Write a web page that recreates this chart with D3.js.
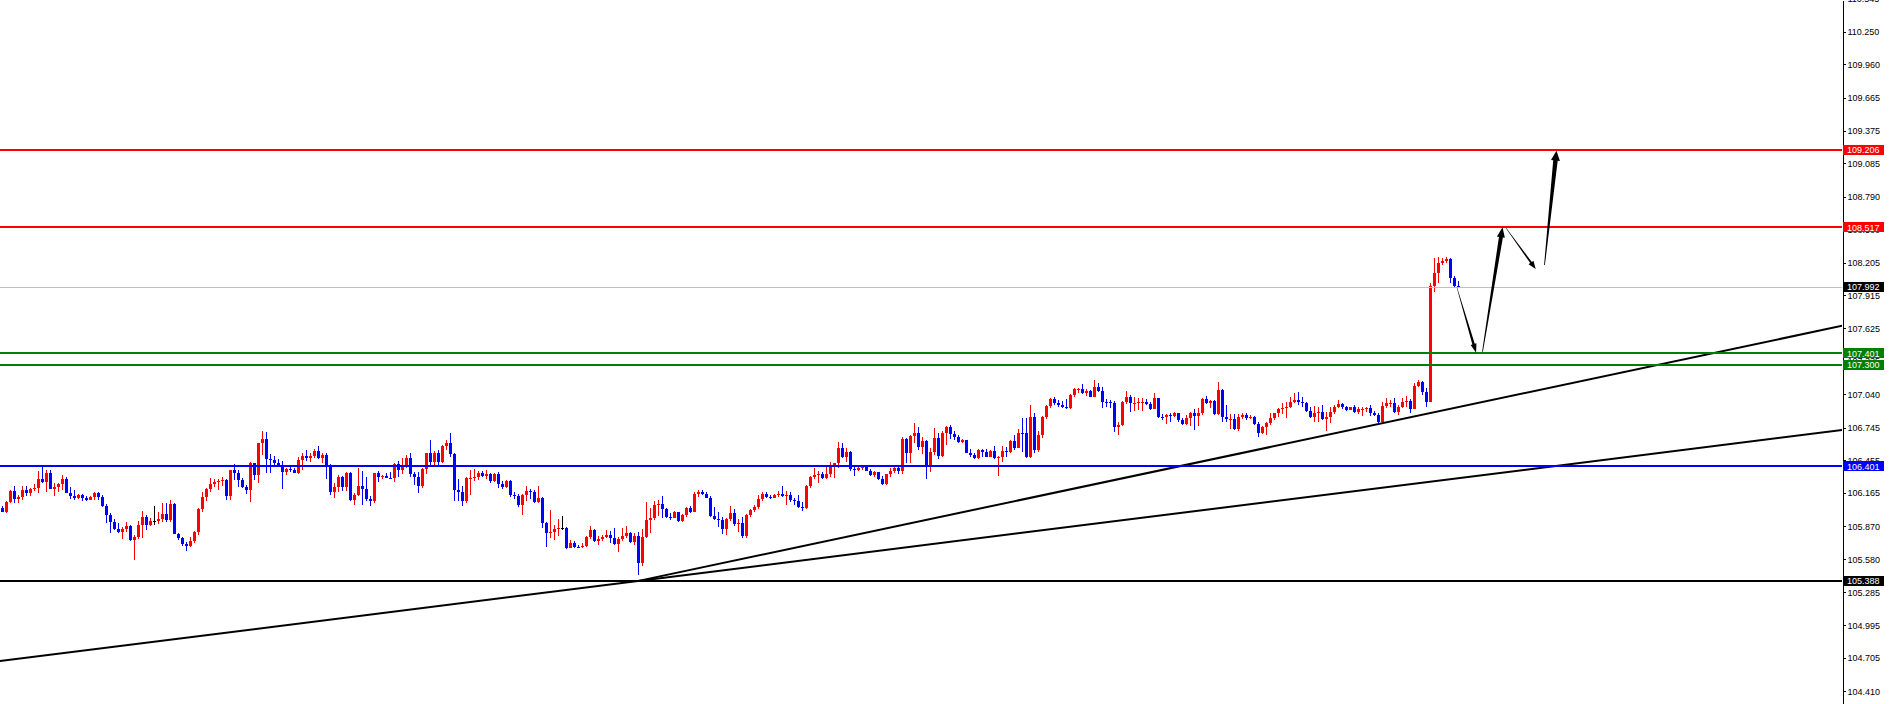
<!DOCTYPE html>
<html>
<head>
<meta charset="utf-8">
<script src="https://cdn.jsdelivr.net/npm/d3@7"></script>
<style>
html,body{margin:0;padding:0;background:#fff;}
svg{display:block;}
</style>
</head>
<body>
<svg id="chart" width="1889" height="704"></svg>
<script>
// ---------------- DATA ----------------
const firstOpen = 106.033;
const closes = [
106.001,106.089,106.186,106.116,106.133,106.195,106.169,106.201,106.213,106.290,
106.266,106.346,106.204,106.219,106.245,106.290,106.169,106.139,106.119,106.148,
106.119,106.104,106.133,106.169,106.133,106.054,105.968,105.912,105.850,105.823,
105.850,105.874,105.747,105.779,105.880,105.953,105.882,105.918,105.918,105.933,
105.977,105.927,106.068,105.803,105.764,105.714,105.697,105.744,105.823,106.021,
106.127,106.201,106.245,106.266,106.272,106.281,106.139,106.369,106.346,106.281,
106.222,106.192,106.428,106.325,106.605,106.644,106.467,106.458,106.428,106.405,
106.355,106.378,106.369,106.346,106.458,
106.493,106.479,106.493,106.538,106.473,106.502,106.414,106.178,106.222,106.310,
106.222,106.346,106.104,106.148,106.228,106.201,106.113,106.098,106.340,106.304,
106.316,106.301,106.298,106.420,106.369,106.414,106.479,106.331,106.304,106.231,
106.378,106.523,106.443,106.517,106.437,106.582,106.611,106.511,106.192,106.178,
106.098,106.296,106.301,106.310,106.346,106.319,106.334,106.272,106.331,106.242,
106.216,106.275,106.148,106.140,106.060,106.148,106.186,106.172,106.089,106.124,
105.903,105.815,105.823,105.844,105.859,105.859,105.682,105.720,105.691,105.685,
105.700,105.779,105.838,105.744,105.759,
105.776,105.794,105.765,105.712,105.759,105.785,105.812,105.729,105.785,105.549,
105.779,105.927,105.948,106.060,106.066,106.021,105.957,105.942,105.995,105.918,
105.971,106.030,106.001,106.157,106.178,106.160,106.125,105.962,105.936,105.930,
105.847,105.936,105.986,105.889,105.898,105.788,105.971,106.016,106.039,106.113,
106.157,106.134,106.125,106.148,106.157,106.142,106.148,106.104,106.095,106.045,
106.030,106.228,106.311,106.325,106.337,106.296,106.334,106.399,106.429,106.567,
106.488,106.532,106.376,106.367,106.390,106.393,106.364,106.325,106.349,106.290,
106.246,106.331,106.361,106.384,106.364,
106.644,106.517,106.671,106.700,106.576,106.629,106.405,106.532,106.650,106.494,
106.700,106.747,106.688,106.665,106.620,106.635,106.523,106.502,106.473,106.547,
106.532,106.488,106.538,106.473,106.488,106.538,106.532,106.626,106.567,106.700,
106.694,106.482,106.842,106.547,106.680,106.842,106.936,106.998,106.960,106.945,
106.930,106.916,107.034,107.084,107.087,107.054,107.072,107.019,107.107,107.072,
106.975,106.969,106.966,106.753,106.768,106.975,107.019,106.960,106.966,106.969,
106.975,106.951,106.910,107.004,106.842,106.836,106.857,106.851,106.871,106.812,
106.777,106.827,106.871,106.851,106.871,
106.998,106.966,106.983,106.865,107.078,106.842,106.818,106.822,106.733,106.842,
106.857,106.827,106.842,106.777,106.700,106.747,106.783,106.827,106.871,106.907,
106.921,106.930,106.975,106.989,106.975,106.960,106.892,106.842,106.871,106.886,
106.821,106.842,106.886,106.930,106.954,106.924,106.901,106.924,106.880,106.907,
106.912,106.916,106.877,106.857,106.798,106.936,106.960,106.966,106.886,106.930,
106.975,106.983,106.907,107.113,107.152,107.063,106.975,107.999,108.117,108.199,
108.220,108.238,108.067,107.996,107.992
];
const highs = [
106.051,106.098,106.192,106.228,106.148,106.228,106.228,106.213,106.245,106.361,
106.408,106.369,106.369,106.251,106.251,106.325,106.304,106.222,106.192,106.157,
106.157,106.139,106.139,106.178,106.178,106.148,106.068,105.986,105.936,105.897,
105.862,105.906,105.882,105.794,105.921,106.009,105.971,105.947,106.051,106.001,
106.074,106.074,106.104,106.074,105.815,105.779,105.732,105.779,105.832,106.030,
106.178,106.213,106.296,106.287,106.290,106.304,106.287,106.369,106.422,106.369,
106.301,106.237,106.443,106.428,106.611,106.715,106.706,106.511,106.493,106.467,
106.449,106.390,106.399,106.390,106.482,
106.523,106.546,106.517,106.552,106.582,106.523,106.523,106.422,106.257,106.325,
106.319,106.355,106.355,106.163,106.384,106.361,106.304,106.139,106.346,106.361,
106.325,106.346,106.355,106.434,106.452,106.473,106.502,106.517,106.355,106.349,
106.390,106.523,106.635,106.541,106.546,106.591,106.635,106.694,106.523,106.287,
106.228,106.304,106.369,106.375,106.363,106.361,106.369,106.346,106.346,106.349,
106.275,106.281,106.281,106.172,106.157,106.154,106.228,106.201,106.192,106.228,
106.133,105.912,106.015,105.882,105.936,105.962,105.868,105.750,105.741,105.705,
105.720,105.785,105.874,105.844,105.785,
105.794,105.838,105.830,105.853,105.779,105.859,105.874,105.824,105.809,105.824,
105.847,106.089,106.030,106.095,106.104,106.142,106.036,105.986,106.010,106.001,
105.977,106.045,106.054,106.172,106.193,106.193,106.178,106.139,106.045,106.001,
105.957,105.948,106.051,106.021,105.936,105.957,105.977,106.024,106.060,106.148,
106.172,106.172,106.148,106.157,106.184,106.228,106.184,106.172,106.119,106.148,
106.083,106.237,106.319,106.390,106.361,106.355,106.399,106.438,106.435,106.615,
106.606,106.567,106.538,106.399,106.399,106.399,106.399,106.379,106.361,106.355,
106.317,106.337,106.390,106.393,106.399,
106.659,106.656,106.680,106.789,106.753,106.665,106.635,106.561,106.744,106.694,
106.715,106.759,106.768,106.715,106.680,106.641,106.620,106.553,106.523,106.556,
106.556,106.553,106.547,106.582,106.494,106.582,106.570,106.635,106.680,106.730,
106.827,106.827,106.945,106.871,106.715,106.848,106.945,107.010,107.013,106.989,
106.983,106.995,107.042,107.093,107.099,107.128,107.087,107.078,107.166,107.137,
107.101,106.995,106.989,106.980,106.797,106.980,107.072,107.034,107.019,107.010,
107.010,106.995,106.975,107.054,106.975,106.865,106.862,106.877,106.880,106.871,
106.833,106.857,106.880,106.907,106.916,
107.004,107.025,106.989,106.989,107.152,107.084,106.945,106.865,106.865,106.865,
106.871,106.871,106.857,106.848,106.798,106.759,106.792,106.871,106.877,106.916,
106.960,106.975,107.019,107.048,107.063,107.019,106.975,106.930,106.936,106.924,
106.945,106.886,106.924,106.945,106.989,106.966,106.936,106.930,106.945,106.924,
106.930,106.930,106.945,106.895,106.871,106.975,107.004,106.989,107.004,106.945,
107.004,107.025,106.995,107.143,107.166,107.160,107.093,108.022,108.244,108.252,
108.244,108.258,108.244,108.087,108.043
];
const lows = [
105.995,105.992,106.074,106.074,106.080,106.104,106.139,106.139,106.181,106.163,
106.251,106.178,106.198,106.139,106.178,106.192,106.163,106.110,106.104,106.116,
106.098,106.098,106.104,106.104,106.104,106.039,105.903,105.815,105.838,105.809,
105.756,105.818,105.744,105.573,105.756,105.764,105.838,105.874,105.882,105.891,
105.912,105.912,105.912,105.803,105.750,105.697,105.655,105.685,105.726,105.794,
106.001,106.098,106.178,106.222,106.192,106.231,106.104,106.104,106.281,106.222,
106.207,106.157,106.089,106.281,106.251,106.502,106.346,106.346,106.414,106.393,
106.201,106.325,106.355,106.340,106.334,
106.369,106.452,106.443,106.473,106.464,106.434,106.290,106.148,106.124,106.178,
106.186,106.186,106.098,106.060,106.139,106.060,106.098,106.054,106.080,106.266,
106.287,106.296,106.287,106.266,106.304,106.334,106.384,106.304,106.237,106.169,
106.207,106.334,106.414,106.414,106.393,106.428,106.546,106.487,106.098,106.098,
106.054,106.080,106.148,106.275,106.281,106.304,106.287,106.257,106.260,106.207,
106.201,106.207,106.127,106.113,106.045,105.971,106.095,106.113,106.080,106.074,
105.859,105.691,105.770,105.750,105.788,105.838,105.667,105.676,105.676,105.676,
105.682,105.685,105.756,105.735,105.705,
105.741,105.765,105.726,105.706,105.647,105.741,105.771,105.720,105.706,105.440,
105.523,105.771,105.809,105.927,105.965,105.942,105.948,105.927,105.942,105.912,
105.912,105.957,105.992,105.995,106.134,106.148,106.119,105.957,105.927,105.868,
105.800,105.794,105.918,105.877,105.824,105.771,105.765,105.957,106.001,106.024,
106.095,106.119,106.110,106.119,106.134,106.134,106.060,106.083,106.060,106.036,
106.010,106.024,106.213,106.290,106.252,106.287,106.290,106.311,106.296,106.384,
106.479,106.443,106.361,106.319,106.361,106.370,106.361,106.319,106.311,106.281,
106.237,106.237,106.311,106.340,106.334,
106.334,106.429,106.435,106.606,106.547,106.511,106.287,106.355,106.502,106.464,
106.482,106.591,106.641,106.635,106.612,106.606,106.517,106.488,106.464,106.464,
106.488,106.482,106.482,106.464,106.317,106.443,106.482,106.523,106.547,106.561,
106.532,106.479,106.473,106.517,106.532,106.656,106.818,106.916,106.945,106.930,
106.916,106.907,106.910,107.019,107.054,107.042,107.025,107.013,107.013,107.063,
106.916,106.924,106.916,106.709,106.680,106.759,106.951,106.886,106.895,106.901,
106.895,106.945,106.901,106.954,106.827,106.812,106.777,106.798,106.842,106.798,
106.768,106.768,106.762,106.724,106.759,
106.857,106.954,106.916,106.857,106.857,106.798,106.798,106.730,106.724,106.718,
106.818,106.812,106.818,106.768,106.665,106.688,106.680,106.768,106.812,106.842,
106.865,106.827,106.916,106.960,106.945,106.930,106.886,106.827,106.798,106.798,
106.812,106.718,106.783,106.865,106.916,106.907,106.895,106.901,106.871,106.865,
106.851,106.886,106.848,106.851,106.789,106.789,106.916,106.930,106.877,106.857,
106.916,106.924,106.871,106.907,107.101,107.034,106.930,106.969,107.948,108.022,
108.185,108.199,108.022,107.987,107.981
];

// horizontal levels
const levelValues = [109.206, 108.517, 107.992, 107.401, 107.300, 106.401, 105.388];
const levelKinds  = ["res", "res", "last", "sup", "sup", "pivot", "base"];

// trend lines: [startBarIndex, startPrice, endBarIndex, endPrice]
const trendLines = [
  [-1.0, 104.677, 460.0, 106.724],
  [159.0, 105.388, 460.0, 107.647]
];

// projected path arrows: [fromBar, fromPrice, toBar, toPrice]
const arrows = [
  [363.6, 107.985, 368.4, 107.408],
  [370.0, 107.417, 375.0, 108.518],
  [375.9, 108.510, 383.3, 108.149],
  [385.5, 108.185, 388.5, 109.197]
];

// axis tick labels
const tickLabels = ["110.545","110.250","109.960","109.665","109.375","109.085","108.790","108.500",
  "108.205","107.915","107.625","107.335","107.040","106.745","106.455","106.165","105.870",
  "105.580","105.285","104.995","104.705","104.410"];

// ---------------- LAYOUT ----------------
const W = 1889, H = 704;
const plotRight = 1842;
const svg = d3.select("#chart");

const x = d3.scaleLinear().domain([0, closes.length - 1]).range([2.5, 2.5 + 4 * (closes.length - 1)]);
const y = d3.scaleLinear().domain([104.2978, 110.5307]).range([H, 0]);

const colorOf = {res: "#ff0000", last: "#c0c0c0", sup: "#008000", pivot: "#0000ff", base: "#000000"};
const boxOf   = {res: "#ff0000", last: "#000000", sup: "#008000", pivot: "#0000ff", base: "#000000"};

svg.append("defs").append("clipPath").attr("id", "plotclip")
  .append("rect").attr("x", 0).attr("y", 0).attr("width", plotRight).attr("height", H);

const plot = svg.append("g").attr("clip-path", "url(#plotclip)");

// candles
const candles = closes.map((c, i) => {
  const o = i === 0 ? firstOpen : closes[i - 1];
  return {i, o, c, h: Math.max(highs[i], o, c), l: Math.min(lows[i], o, c)};
});
const cg = plot.append("g").attr("shape-rendering", "crispEdges");
const col = d => d.c > d.o ? "#ff0000" : (d.c < d.o ? "#0000ff" : "#000000");

cg.selectAll("rect.wick").data(candles).join("rect")
  .attr("class", "wick")
  .attr("x", d => Math.round(x(d.i) - 0.5))
  .attr("width", 1)
  .attr("y", d => Math.round(y(d.h)))
  .attr("height", d => Math.max(1, Math.round(y(d.l)) - Math.round(y(d.h))))
  .attr("fill", col);

cg.selectAll("rect.body").data(candles).join("rect")
  .attr("class", "body")
  .attr("x", d => Math.round(x(d.i) - 1.5))
  .attr("width", 3)
  .attr("y", d => Math.round(y(Math.max(d.o, d.c))))
  .attr("height", d => Math.max(1, Math.round(y(Math.min(d.o, d.c))) - Math.round(y(Math.max(d.o, d.c)))))
  .attr("fill", col);

// trend lines
plot.append("g").selectAll("line").data(trendLines).join("line")
  .attr("x1", d => x(d[0])).attr("y1", d => y(d[1]))
  .attr("x2", d => x(d[2])).attr("y2", d => y(d[3]))
  .attr("stroke", "#000").attr("stroke-width", 2);

// horizontal level lines
plot.append("g").selectAll("line").data(levelValues).join("line")
  .attr("x1", 0).attr("x2", plotRight)
  .attr("y1", d => Math.round(y(d)) + 0.0)
  .attr("y2", d => Math.round(y(d)) + 0.0)
  .attr("stroke", (d, i) => colorOf[levelKinds[i]])
  .attr("stroke-width", (d, i) => levelKinds[i] === "last" ? 1 : 2)
  .attr("shape-rendering", "crispEdges");

// arrows
const arrowStyle = [
  {ws: 0.4, we: 2.5, wh: 6, lh: 9},
  {ws: 0.8, we: 4.0, wh: 8, lh: 10},
  {ws: 0.4, we: 2.0, wh: 6, lh: 8},
  {ws: 0.8, we: 4.5, wh: 9, lh: 10}
];
function arrowPoly(a, s) {
  const x0 = x(a[0]), y0 = y(a[1]), x1 = x(a[2]), y1 = y(a[3]);
  const dx = x1 - x0, dy = y1 - y0, len = Math.hypot(dx, dy);
  const ux = dx / len, uy = dy / len, nx = -uy, ny = ux;
  const bx = x1 - ux * s.lh, by = y1 - uy * s.lh;
  const p = [
    [x0 + nx * s.ws / 2, y0 + ny * s.ws / 2],
    [bx + nx * s.we / 2, by + ny * s.we / 2],
    [bx + nx * s.wh / 2, by + ny * s.wh / 2],
    [x1, y1],
    [bx - nx * s.wh / 2, by - ny * s.wh / 2],
    [bx - nx * s.we / 2, by - ny * s.we / 2],
    [x0 - nx * s.ws / 2, y0 - ny * s.ws / 2]
  ];
  return p.map(q => q.join(",")).join(" ");
}
plot.append("g").selectAll("polygon").data(arrows).join("polygon")
  .attr("points", (d, i) => arrowPoly(d, arrowStyle[i]))
  .attr("fill", "#000");

// right axis
const tickVals = tickLabels.map(Number);
const axis = d3.axisRight(y).tickValues(tickVals).tickFormat((d, i) => tickLabels[i])
  .tickSizeInner(3).tickSizeOuter(0).tickPadding(2);
const ag = svg.append("g").attr("transform", `translate(${plotRight + 0.5},0)`).call(axis);
ag.select(".domain").attr("stroke", "#000").attr("shape-rendering", "crispEdges");
ag.selectAll(".tick line").attr("stroke", "#000").attr("shape-rendering", "crispEdges");
ag.selectAll(".tick text").attr("fill", "#000")
  .style("font-family", "'Liberation Sans', Arial, sans-serif").style("font-size", "9px");

// level value boxes
const lb = svg.append("g");
levelValues.forEach((v, i) => {
  const yy = y(v);
  lb.append("rect").attr("x", plotRight + 1).attr("y", Math.round(yy) - 5)
    .attr("width", 41).attr("height", 10).attr("fill", boxOf[levelKinds[i]])
    .attr("shape-rendering", "crispEdges");
  lb.append("text").attr("x", plotRight + 5).attr("y", yy).attr("dy", "0.35em")
    .attr("fill", "#fff")
    .style("font-family", "'Liberation Sans', Arial, sans-serif").style("font-size", "9px")
    .text(v.toFixed(3));
});
</script>
</body>
</html>
